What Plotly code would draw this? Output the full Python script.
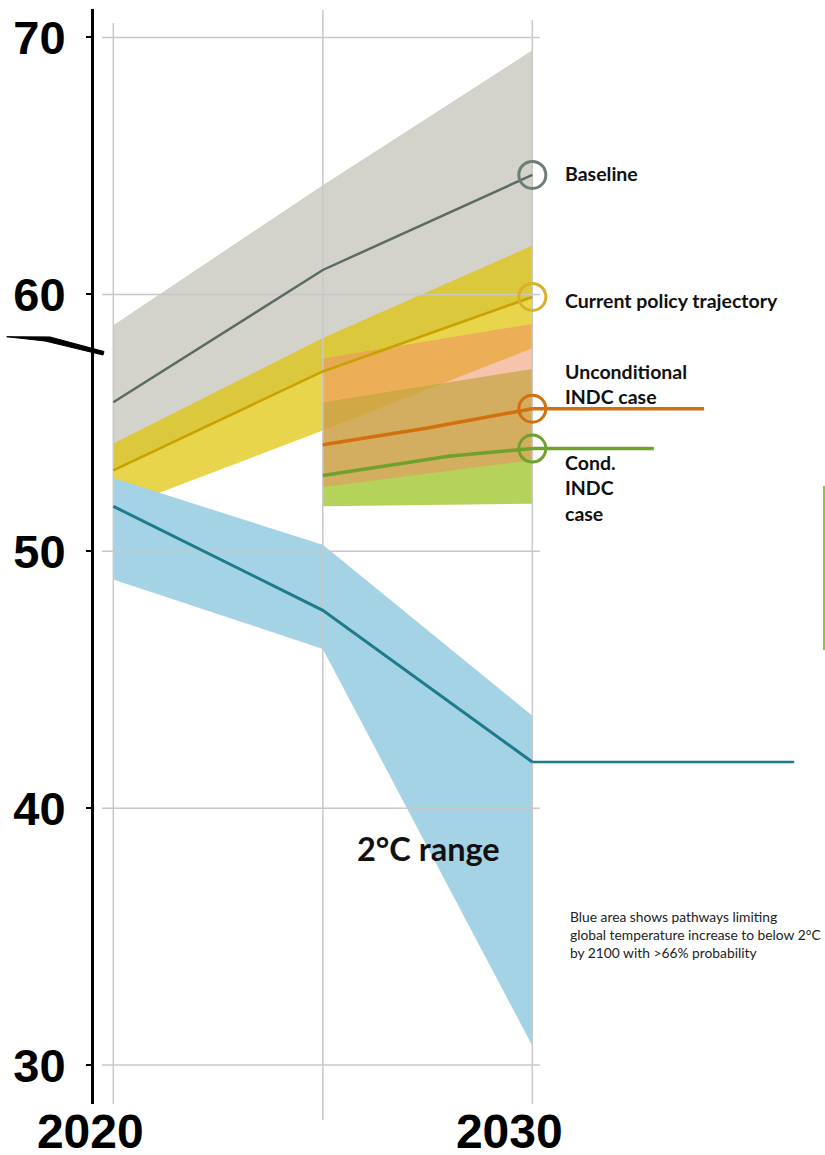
import plotly.graph_objects as go

# ---- data (GtCO2e per year) ----
years = [2020, 2025, 2030]

baseline_mid = [55.8, 60.95, 64.65]
baseline_hi = [58.8, 64.25, 69.5]

policy_mid = [53.15, 57.0, 59.9]
policy_hi = [54.2, 58.3, 61.9]
policy_lo = [51.6, 54.7, 57.9]

indc_years = [2025, 2030]
uncond_hi = [57.5, 58.85]
uncond_lo = [52.5, 53.55]
uncond_line_years = [2025, 2027.5, 2030]
uncond_mid = [54.15, 54.8, 55.55]

cond_hi = [55.8, 57.1]
cond_lo = [51.75, 51.85]
cond_line_years = [2025, 2028, 2030]
cond_mid = [52.95, 53.7, 54.0]

two_deg_hi = [52.85, 50.25, 43.6]
two_deg_mid = [51.75, 47.7, 41.8]
two_deg_lo = [48.9, 46.2, 30.75]

# where the horizontal guide lines stop
uncond_guide_end = 2034.1
cond_guide_end = 2032.9
two_deg_guide_end = 2036.25

y_ticks = [30, 40, 50, 60, 70]
x_ticks = [2020, 2030]
x_tick_text = ["2020", "2030"]

# ---- colours ----
GRAY_BAND = "rgb(211,211,203)"
YELLOW_BAND = "rgba(224,195,0,0.70)"
GREEN_BAND = "rgba(149,192,21,0.70)"
ORANGE_BAND = "rgba(238,142,100,0.53)"
BLUE_BAND = "rgb(163,211,229)"
OLIVE = "rgb(160,178,96)"
GRID = "rgb(200,200,200)"

C_BASE = "#5b6b64"
C_BASE_RING = "#6e7d76"
C_POLICY = "#c9a100"
C_POLICY_RING = "#d8b02a"
C_UNCOND = "#d2700f"
C_COND = "#6ea22a"
C_TWO = "#1f7b8c"

TEXT_FONT = "Lato"
TICK_FONT = "Liberation Sans"


def band(xs, lo, hi, color):
    return go.Scatter(
        x=list(xs) + list(xs)[::-1],
        y=list(hi) + list(lo)[::-1],
        fill="toself", fillcolor=color, mode="none",
        hoverinfo="skip", showlegend=False,
    )


def line(xs, ys, color, width):
    return go.Scatter(
        x=list(xs), y=list(ys), mode="lines",
        line=dict(color=color, width=width),
        hoverinfo="skip", showlegend=False,
    )


def polygon(xs, lo, hi):
    return list(zip(list(xs) + list(xs)[::-1], list(hi) + list(lo)[::-1]))


def clip_polygon(subject, clip):
    """Sutherland-Hodgman clipping of one polygon by a convex one."""
    def area(poly):
        return sum(poly[i][0] * poly[i - 1][1] - poly[i - 1][0] * poly[i][1]
                   for i in range(len(poly))) / 2
    sign = 1 if area(clip) < 0 else -1

    def inside(p, a, b):
        return sign * ((b[0] - a[0]) * (p[1] - a[1]) - (b[1] - a[1]) * (p[0] - a[0])) <= 0

    def cross(p, q, a, b):
        x1, y1 = p; x2, y2 = q; x3, y3 = a; x4, y4 = b
        den = (x1 - x2) * (y3 - y4) - (y1 - y2) * (x3 - x4)
        t = ((x1 - x3) * (y3 - y4) - (y1 - y3) * (x3 - x4)) / den
        return (x1 + t * (x2 - x1), y1 + t * (y2 - y1))

    out = subject
    for i in range(len(clip)):
        a, b = clip[i - 1], clip[i]
        src, out = out, []
        if not src:
            break
        for j in range(len(src)):
            p, q = src[j - 1], src[j]
            if inside(q, a, b):
                if not inside(p, a, b):
                    out.append(cross(p, q, a, b))
                out.append(q)
            elif inside(p, a, b):
                out.append(cross(p, q, a, b))
    return out


fig = go.Figure()

# emission ranges
fig.add_trace(band(years, policy_mid, baseline_hi, GRAY_BAND))
fig.add_trace(band(years, policy_lo, policy_hi, YELLOW_BAND))
fig.add_trace(band(indc_years, cond_lo, cond_hi, GREEN_BAND))
fig.add_trace(band(indc_years, uncond_lo, uncond_hi, ORANGE_BAND))
fig.add_trace(band(years, two_deg_lo, two_deg_hi, BLUE_BAND))

# where the 2°C range and the current-policy range overlap
overlap = clip_polygon(polygon(years, two_deg_lo, two_deg_hi),
                       polygon(years, policy_lo, policy_hi))
if overlap:
    fig.add_trace(go.Scatter(
        x=[p[0] for p in overlap] + [overlap[0][0]],
        y=[p[1] for p in overlap] + [overlap[0][1]],
        fill="toself", fillcolor=OLIVE, mode="none",
        hoverinfo="skip", showlegend=False,
    ))

# grid
h_x, h_y = [], []
for v in y_ticks:
    h_x += [2019.73, 2030.18, None]
    h_y += [v, v, None]
fig.add_trace(go.Scatter(x=h_x, y=h_y, mode="lines",
                         line=dict(color=GRID, width=1.5),
                         hoverinfo="skip", showlegend=False))
fig.add_trace(go.Scatter(
    x=[2020, 2020, None, 2025, 2025, None, 2030, 2030],
    y=[70.56, 20, None, 71.07, 20, None, 70.68, 20],
    mode="lines", line=dict(color=GRID, width=1.5),
    hoverinfo="skip", showlegend=False))

# pathways
fig.add_trace(line(years, baseline_mid, C_BASE, 2.5))
fig.add_trace(line(years, policy_mid, C_POLICY, 2.5))
fig.add_trace(line(uncond_line_years, uncond_mid, C_UNCOND, 3.5))
fig.add_trace(line([2030, uncond_guide_end], [uncond_mid[-1]] * 2, C_UNCOND, 3.5))
fig.add_trace(line(cond_line_years, cond_mid, C_COND, 3.5))
fig.add_trace(line([2030, cond_guide_end], [cond_mid[-1]] * 2, C_COND, 3.5))
fig.add_trace(line(years, two_deg_mid, C_TWO, 3))
fig.add_trace(line([2030, two_deg_guide_end], [two_deg_mid[-1]] * 2, C_TWO, 2.5))

# 2030 end-point rings
for val, col in [(baseline_mid[-1], C_BASE_RING), (policy_mid[-1], C_POLICY_RING),
                 (uncond_mid[-1], C_UNCOND), (cond_mid[-1], C_COND)]:
    fig.add_trace(go.Scatter(
        x=[2030], y=[val], mode="markers",
        marker=dict(symbol="circle-open", size=27, color=col,
                    line=dict(width=3, color=col)),
        hoverinfo="skip", showlegend=False, cliponaxis=False,
    ))

# labels
label_font = dict(family=TEXT_FONT, size=19.5, color="#111111", weight="bold")
labels = [
    ("Baseline", 64.71),
    ("Current policy trajectory", 59.78),
    ("Unconditional<br>INDC case", 56.5),
    ("Cond.<br>INDC<br>case", 52.45),
]
for txt, yv in labels:
    fig.add_annotation(x=2030.73, y=yv, text=txt, showarrow=False, align="left",
                       xanchor="left", yanchor="middle", font=label_font)

fig.add_annotation(x=2025.77, y=38.43, text="2°C range", showarrow=False,
                   xanchor="left", yanchor="middle",
                   font=dict(family=TEXT_FONT, size=32.5, color="#111111", weight="bold"))

note_font = dict(family=TEXT_FONT, size=13.8, color="#222222")
fig.add_annotation(x=2030.85, y=35.08, showarrow=False, align="left",
                   xanchor="left", yanchor="middle", font=note_font,
                   text="Blue area shows pathways limiting<br>"
                        "global temperature increase to below 2°C<br>"
                        "by 2100 with >66% probability")

# axis-break mark, grid tail under 2025 and the green edge stroke
fig.add_shape(type="path", xref="paper", yref="paper",
              path="M -0.1194 0.7007 L -0.0602 0.7005 L 0.0137 0.6872 "
                   "L 0.0123 0.6840 L -0.0670 0.6968 Z",
              fillcolor="black", line=dict(color="black", width=1))
fig.add_shape(type="line", xref="x", yref="paper", x0=2025, x1=2025,
              y0=-0.0146, y1=0, line=dict(color=GRID, width=1.5))
fig.add_shape(type="line", xref="paper", yref="paper", x0=0.9986, x1=0.9986,
              y0=0.4146, y1=0.5644, line=dict(color="#8cc63f", width=2))

fig.update_layout(
    width=825, height=1155,
    margin=dict(l=94, r=0, t=9, b=51, autoexpand=False),
    paper_bgcolor="white", plot_bgcolor="white",
    showlegend=False,
    xaxis=dict(range=[2019.539, 2036.985], tickvals=x_ticks, ticktext=x_tick_text,
               automargin=False,
               showgrid=False, zeroline=False, showline=False, ticks="",
               ticklabelshift=-23, ticklabelstandoff=-5,
               tickfont=dict(family=TICK_FONT, size=48, color="black", weight="bold")),
    yaxis=dict(range=[28.485, 71.109], tickvals=y_ticks, automargin=False,
               showgrid=False, zeroline=False,
               showline=True, linecolor="black", linewidth=3,
               ticks="outside", ticklen=5, tickwidth=2, tickcolor="black",
               ticklabelstandoff=11,
               tickfont=dict(family=TICK_FONT, size=47, color="black", weight="bold")),
)

fig.write_html("out.html")
